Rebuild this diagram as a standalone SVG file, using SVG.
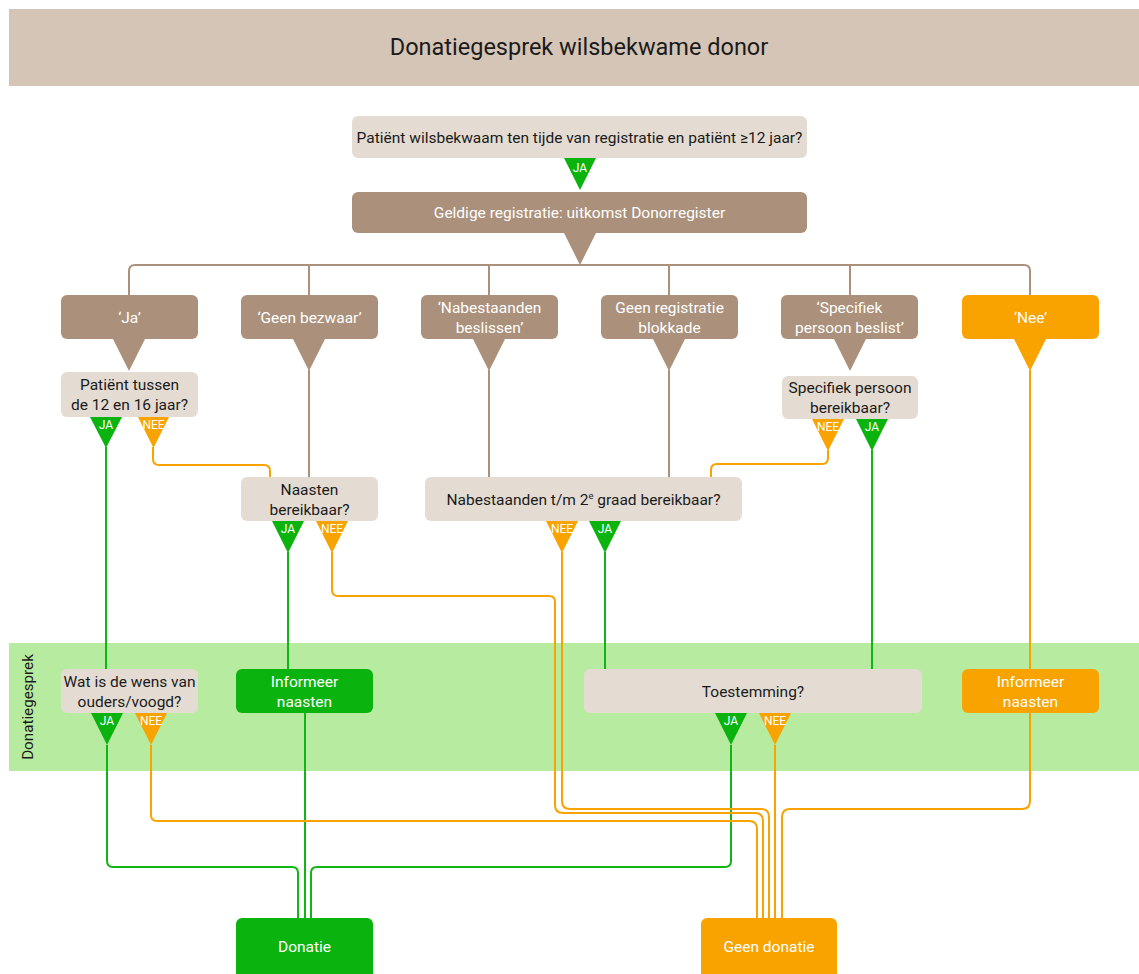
<svg xmlns="http://www.w3.org/2000/svg" width="1139" height="974" viewBox="0 0 1139 974">
<style>
text{font-family:Roboto,"Liberation Sans",sans-serif;}
.t{font-size:15.5px;fill:#1a1a1a;text-anchor:middle;}
.w{font-size:15.5px;fill:#ffffff;text-anchor:middle;}
.lab{font-size:12px;fill:#ffffff;text-anchor:middle;}
.light{fill:#e4dcd3;}
.brown{fill:#ab917b;}
.green{fill:#0bb30f;}
.orange{fill:#f8a300;}
.cb{fill:none;stroke:#ab917b;stroke-width:2;}
.cg{fill:none;stroke:#12b516;stroke-width:2;}
.co{fill:none;stroke:#f8a300;stroke-width:2;}
</style>
<rect x="9" y="9" width="1130" height="77" fill="#d5c5b7"/>
<text x="579" y="55" font-size="23.5" fill="#1a1a1a" text-anchor="middle">Donatiegesprek wilsbekwame donor</text>
<rect x="9" y="643" width="1130" height="128" fill="#b7eb9f"/>
<text transform="translate(33,707) rotate(-90)" font-size="15.2" fill="#1a1a1a" text-anchor="middle">Donatiegesprek</text>

<g id="connectors">
<path class="cb" d="M129,295 V271 Q129,265 135,265 H1024 Q1030,265 1030,271 V295 M309,265 V295 M489,265 V295 M669,265 V295 M850,265 V295"/>
<path class="cb" d="M309,370 V477 M489,370 V477 M669,370 V477"/>
<path class="cg" d="M106,447 V669 M288,552 V669 M605,552 V669 M872,450 V669"/>
<path class="cg" d="M107,745 V861 Q107,867 113,867 H292 Q298,867 298,873 V918"/>
<path class="cg" d="M305,713 V918"/>
<path class="cg" d="M731,745 V861 Q731,867 725,867 H317 Q311,867 311,873 V918"/>
<path class="co" d="M153,447 V459 Q153,465 159,465 H264 Q270,465 270,471 V477"/>
<path class="co" d="M828,450 V458 Q828,464 822,464 H717 Q711,464 711,470 V477"/>
<path class="co" d="M332,552 V590 Q332,596 338,596 H549 Q555,596 555,602 V805 Q555,813 563,813 H755 Q763,813 763,821 V918"/>
<path class="co" d="M562,552 V801 Q562,809 570,809 H761 Q769,809 769,817 V918"/>
<path class="co" d="M151,745 V815 Q151,821 157,821 H749 Q757,821 757,829 V918"/>
<path class="co" d="M775,745 V918"/>
<path class="co" d="M1030,370 V801 Q1030,809 1022,809 H790 Q782,809 782,817 V918"/>
</g>

<g id="n-start">
<rect class="light" x="352" y="116" width="455" height="42" rx="6"/>
<text class="t" x="579.5" y="142.5">Patiënt wilsbekwaam ten tijde van registratie en patiënt ≥12 jaar?</text>
<polygon class="green" points="564,158 596,158 580,190"/>
<text class="lab" x="580" y="172">JA</text>
</g>
<g id="n-geldig">
<rect class="brown" x="352" y="192" width="455" height="41" rx="6"/>
<text class="w" x="579.5" y="218">Geldige registratie: uitkomst Donorregister</text>
<polygon class="brown" points="564,233 596,233 580,265"/>
</g>

<g id="n-ja">
<rect class="brown" x="61" y="295" width="137" height="44" rx="6"/>
<text class="w" x="129.5" y="322.5">‘Ja’</text>
<polygon class="brown" points="113,339 145,339 129,371"/>
</g>
<g id="n-geenbezwaar">
<rect class="brown" x="241" y="295" width="137" height="44" rx="6"/>
<text class="w" x="309.5" y="322.5">‘Geen bezwaar’</text>
<polygon class="brown" points="293,339 325,339 309,371"/>
</g>
<g id="n-nabestaanden">
<rect class="brown" x="421" y="295" width="137" height="44" rx="6"/>
<text class="w" x="489.5" y="312.5">‘Nabestaanden</text>
<text class="w" x="489.5" y="332.5">beslissen’</text>
<polygon class="brown" points="473,339 505,339 489,371"/>
</g>
<g id="n-geenregistratie">
<rect class="brown" x="601" y="295" width="137" height="44" rx="6"/>
<text class="w" x="669.5" y="312.5">Geen registratie</text>
<text class="w" x="669.5" y="332.5">blokkade</text>
<polygon class="brown" points="653,339 685,339 669,371"/>
</g>
<g id="n-specifiek">
<rect class="brown" x="781" y="295" width="137" height="44" rx="6"/>
<text class="w" x="849.5" y="312.5">‘Specifiek</text>
<text class="w" x="849.5" y="332.5">persoon beslist’</text>
<polygon class="brown" points="834,339 866,339 850,371"/>
</g>
<g id="n-nee">
<rect class="orange" x="962" y="295" width="137" height="44" rx="6"/>
<text class="w" x="1030.5" y="322.5">‘Nee’</text>
<polygon class="orange" points="1014,339 1046,339 1030,371"/>
</g>

<g id="n-tussen">
<rect class="light" x="61" y="372" width="137" height="45" rx="6"/>
<text class="t" x="129.5" y="389.5">Patiënt tussen</text>
<text class="t" x="129.5" y="409.5">de 12 en 16 jaar?</text>
<polygon class="green" points="90,417 122,417 106,448"/>
<text class="lab" x="106" y="428.5">JA</text>
<polygon class="orange" points="138,417 169,417 153.5,448"/>
<text class="lab" x="153.5" y="428.5">NEE</text>
</g>
<g id="n-specbereik">
<rect class="light" x="782" y="376" width="136" height="43" rx="6"/>
<text class="t" x="850" y="392.5">Specifiek persoon</text>
<text class="t" x="850" y="412.5">bereikbaar?</text>
<polygon class="orange" points="812,419 844,419 828,451"/>
<text class="lab" x="828" y="430.5">NEE</text>
<polygon class="green" points="856,419 888,419 872,451"/>
<text class="lab" x="872" y="430.5">JA</text>
</g>
<g id="n-naasten">
<rect class="light" x="241" y="477" width="137" height="44" rx="6"/>
<text class="t" x="309.5" y="494.5">Naasten</text>
<text class="t" x="309.5" y="514.5">bereikbaar?</text>
<polygon class="green" points="272,521 304,521 288,553"/>
<text class="lab" x="288" y="532.5">JA</text>
<polygon class="orange" points="316,521 348,521 332,553"/>
<text class="lab" x="332" y="532.5">NEE</text>
</g>
<g id="n-nabbereik">
<rect class="light" x="425" y="477" width="317" height="44" rx="6"/>
<text class="t" x="583.5" y="504.5">Nabestaanden t/m 2<tspan font-size="9.5" dy="-6">e</tspan><tspan dy="6"> graad bereikbaar?</tspan></text>
<polygon class="orange" points="546,521 578,521 562,553"/>
<text class="lab" x="562" y="532.5">NEE</text>
<polygon class="green" points="589,521 621,521 605,553"/>
<text class="lab" x="605" y="532.5">JA</text>
</g>

<g id="n-wens">
<rect class="light" x="61" y="669" width="137" height="44" rx="6"/>
<text class="t" x="129.5" y="686.5">Wat is de wens van</text>
<text class="t" x="129.5" y="706.5">ouders/voogd?</text>
<polygon class="green" points="91,713 123,713 107,745"/>
<text class="lab" x="107" y="724.5">JA</text>
<polygon class="orange" points="135,713 167,713 151,745"/>
<text class="lab" x="151" y="724.5">NEE</text>
</g>
<g id="n-informeer-g">
<rect class="green" x="236" y="669" width="137" height="44" rx="6"/>
<text class="w" x="304.5" y="686.5">Informeer</text>
<text class="w" x="304.5" y="706.5">naasten</text>
</g>
<g id="n-toestemming">
<rect class="light" x="584" y="669" width="338" height="44" rx="6"/>
<text class="t" x="753" y="696.5">Toestemming?</text>
<polygon class="green" points="715,713 747,713 731,745"/>
<text class="lab" x="731" y="724.5">JA</text>
<polygon class="orange" points="759,713 791,713 775,745"/>
<text class="lab" x="775" y="724.5">NEE</text>
</g>
<g id="n-informeer-o">
<rect class="orange" x="962" y="669" width="137" height="44" rx="6"/>
<text class="w" x="1030.5" y="686.5">Informeer</text>
<text class="w" x="1030.5" y="706.5">naasten</text>
</g>

<g id="n-donatie">
<rect class="green" x="236" y="918" width="137" height="62" rx="6"/>
<text class="w" x="304.5" y="951.5">Donatie</text>
</g>
<g id="n-geendonatie">
<rect class="orange" x="701" y="918" width="136" height="62" rx="6"/>
<text class="w" x="769" y="951.5">Geen donatie</text>
</g>
</svg>
